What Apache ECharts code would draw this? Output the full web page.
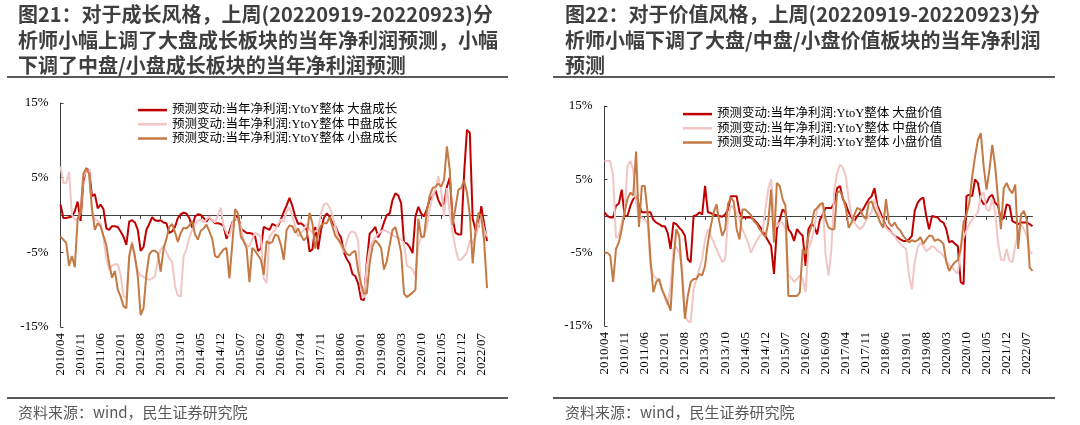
<!DOCTYPE html>
<html>
<head>
<meta charset="utf-8">
<script src="https://cdn.jsdelivr.net/npm/echarts@6/dist/echarts.min.js"></script>
<style>
html,body{margin:0;padding:0;background:#fff;}
#main{width:1080px;height:425px;}
</style>
</head>
<body>
<div id="main"></div>
<script>
// 月度数据 2010/04 - 2022/09
var months = [];
(function(){
	var y = 2010, m = 4;
	for (var i = 0; i < 150; i++) {
		months.push(y + '/' + (m < 10 ? '0' + m : m));
		m++;
		if (m > 12) { m = 1; y++; }
	}
})();

var yTicks = [-15, -5, 5, 15];

// 图21 成长风格
var growthNames = ['预测变动:当年净利润:YtoY整体 大盘成长', '预测变动:当年净利润:YtoY整体 中盘成长', '预测变动:当年净利润:YtoY整体 小盘成长'];
var growthLarge = [1.4,-0.4,-0.4,-0.3,-0.2,0.5,1.8,-0.8,4.5,6.2,
	6.0,2.5,2.8,0.9,1.4,0.8,-1.8,-2.0,-1.5,-1.5,
	-1.6,-2.2,-2.9,-4.0,-0.9,-0.7,-1.0,-2.0,-4.8,-4.3,
	-2.0,-1.2,-0.3,-0.7,-0.8,-0.7,-1.0,-1.1,-2.4,-2.2,
	-1.6,-0.4,0.1,0.3,0.2,-0.4,-1.7,-0.2,0.1,0.0,
	-0.4,-0.9,-0.3,-0.7,-1.1,-1.1,-1.2,-1.5,-3.2,-2.2,
	-1.0,-0.6,0.0,-1.8,-2.1,-2.4,-2.4,-2.5,-2.9,-4.8,
	-4.5,-1.6,-1.8,-2.0,-1.2,-1.4,-1.5,-0.6,0.4,1.3,
	2.3,1.2,-0.2,-1.2,-1.1,-1.4,-2.0,-4.9,-4.6,-1.6,
	-4.6,-2.0,-0.4,0.2,-0.2,-1.1,-1.5,-2.4,-3.0,-5.0,
	-5.9,-6.5,-7.9,-8.2,-9.2,-11.3,-11.4,-6.4,-2.5,-2.1,
	-1.6,-3.0,-2.2,-1.0,0.0,0.2,2.0,2.9,2.6,1.6,
	-3.7,-3.8,-4.3,-5.1,-0.2,1.1,0.2,-0.2,0.8,2.1,
	2.5,3.3,2.0,1.2,1.5,3.8,5.0,-0.5,-2.4,-2.6,
	-2.6,5.5,11.4,11.0,-0.5,-2.0,-1.6,1.2,-1.2,-3.5];
var growthMid = [6.5,4.3,4.3,5.8,0.0,-0.6,-0.6,0.3,5.0,6.0,
	6.0,0.3,-0.6,-0.8,-1.1,-3.0,-5.8,-7.3,-6.8,-6.6,
	-6.6,-8.0,-10.9,-11.1,-5.8,-3.5,-6.0,-7.5,-8.1,-8.3,
	-8.5,-8.7,-8.5,-8.2,-6.0,-4.6,-4.2,-5.0,-5.8,-6.3,
	-9.5,-10.8,-10.9,-5.5,-4.6,-3.0,-2.0,-1.3,-0.8,-0.6,
	-1.0,-0.6,-0.2,-0.7,-1.0,0.0,1.0,-1.5,-2.4,-2.9,
	-1.2,-0.3,-0.8,-1.5,-3.5,-4.0,-4.2,-3.2,-2.4,-2.6,
	-2.9,-8.5,-9.1,-2.9,-2.4,-2.0,-1.2,-0.6,-0.9,0.5,
	1.0,-0.2,-1.5,-2.9,-2.4,-2.0,-1.2,-1.8,-2.4,-2.2,
	-2.0,0.2,1.4,1.6,1.0,0.0,-1.5,-3.0,-4.2,-5.0,
	-3.5,-2.4,-2.2,-2.4,-3.5,-10.0,-11.1,-7.0,-4.5,-3.5,
	-3.0,-2.5,-2.2,-2.0,-2.2,-2.4,-2.7,-2.9,-3.1,-3.3,
	-3.75,-6.8,-7.0,-7.3,-8.2,-4.0,-3.1,-2.9,-1.5,0.8,
	2.4,3.5,5.2,3.2,-0.2,3.6,0.2,-2.4,-4.5,-6.0,
	-6.0,-5.5,-5.0,-3.4,-3.8,-2.9,-1.5,-0.2,-2.0,-2.9];
var growthSmall = [-2.9,-3.3,-3.75,-6.8,-5.5,-7.0,-0.5,0.3,5.5,6.3,
	5.5,0.8,-2.0,-1.1,-1.5,-2.8,-4.0,-6.5,-8.4,-7.5,
	-10.0,-10.9,-12.2,-12.5,-5.5,-3.8,-5.5,-8.2,-13.4,-12.5,
	-8.0,-5.3,-4.8,-4.8,-5.1,-7.6,-4.5,-3.2,-1.6,-1.2,
	-2.3,-3.6,-2.4,-1.7,-1.8,-1.4,-0.8,-2.6,-3.3,-2.1,
	-1.8,-1.3,-2.2,-3.2,-5.5,-5.7,-5.1,-4.6,-4.4,-8.5,
	-4.0,0.8,0.2,-2.9,-3.5,-4.4,-9.0,-4.4,-4.8,-5.4,
	-6.0,-8.0,-3.5,-3.8,-3.6,-2.6,-2.8,-4.0,-6.0,-2.0,
	-1.4,-1.5,-2.4,-1.8,-2.7,-3.4,-3.0,0.3,-1.1,-4.5,
	-2.5,-1.4,-1.1,-1.1,-0.3,-1.5,-2.8,-3.3,-3.8,-4.6,
	-5.2,-5.4,-5.0,-4.8,-7.5,-9.2,-10.5,-10.5,-6.5,-4.2,
	-3.4,-3.8,-4.4,-7.3,-6.2,-4.0,-2.0,-1.6,-3.2,-5.0,
	-10.5,-11.0,-10.7,-10.4,-10.0,-0.5,-2.9,-2.9,0.5,2.6,
	3.6,3.8,4.2,3.8,4.7,9.2,6.0,-1.3,1.0,3.4,
	3.6,4.6,3.0,0.0,-6.5,-2.0,0.3,-0.1,-3.5,-9.8];

// 图22 价值风格
var valueNames = ['预测变动:当年净利润:YtoY整体 大盘价值', '预测变动:当年净利润:YtoY整体 中盘价值', '预测变动:当年净利润:YtoY整体 小盘价值'];
var valueLarge = [0.5,0.0,-0.2,-0.2,1.4,1.7,3.6,0.0,0.0,1.4,
	2.3,2.7,1.5,0.5,0.5,0.5,0.5,-0.5,-0.9,-1.1,
	-1.4,-1.4,-2.3,-4.5,-0.9,-1.1,-1.6,-2.0,-2.7,-5.9,
	-6.3,0.0,0.1,0.5,0.2,4.1,0.5,0.4,0.2,0.1,
	0.0,-0.1,0.2,0.9,2.7,2.7,2.7,0.5,-0.2,-0.2,
	-0.2,-0.2,-0.5,-0.9,-1.4,-2.0,-2.7,-3.4,-4.1,-7.9,
	-1.8,-0.5,0.9,0.5,-1.8,-2.3,-3.4,-1.8,-2.3,-2.7,
	-6.8,-1.8,-1.1,-1.4,-2.5,-0.5,0.2,1.1,1.1,1.1,
	1.8,3.8,4.1,2.3,1.6,0.5,-0.2,-0.7,0.0,0.5,
	0.9,1.6,2.3,2.7,3.8,1.4,0.5,-0.5,-1.4,-1.8,
	-2.3,-2.7,-2.9,-3.2,-3.4,-3.4,-3.2,-2.7,0.7,1.8,
	2.3,2.5,0.0,-1.8,0.0,-0.1,-0.2,-0.7,-0.9,-1.8,
	-3.6,-3.4,-3.8,-4.1,-9.0,-9.3,2.7,2.9,2.7,5.0,
	4.5,2.3,1.6,1.8,2.6,2.9,1.8,1.4,-0.5,-0.3,
	1.6,1.4,-0.7,-0.9,-1.1,-0.9,-0.9,-0.9,-1.1,-1.4];
var valueMid = [7.5,7.5,7.5,5.4,-3.0,-2.7,-0.9,0.5,6.8,7.5,
	6.3,1.8,-0.1,-0.2,-0.5,-0.9,-6.8,-8.1,-8.5,-8.8,
	-10.0,-11.1,-12.2,-9.5,-4.5,-4.2,-5.0,-7.2,-13.6,-14.3,
	-14.5,-10.0,-8.6,-7.2,-5.9,-3.2,-1.8,-2.7,-3.6,-4.5,
	-5.4,-6.3,-5.9,-0.5,1.4,1.1,0.5,-0.5,-1.8,-2.7,
	-3.6,-5.0,-4.1,-3.4,-2.7,-2.3,0.9,3.6,5.0,0.0,
	-1.4,-0.9,-0.9,-1.8,-8.1,-8.4,-9.0,-8.6,-8.1,-8.6,
	-10.4,-4.5,-3.4,-1.8,0.9,1.3,1.6,-5.4,-8.1,-4.5,
	3.6,5.9,7.0,6.6,5.4,2.3,0.2,-0.9,-1.4,-1.8,
	-1.4,-0.7,0.0,0.5,2.3,0.9,0.0,-0.7,-1.6,-2.0,
	-2.3,-2.7,-3.4,-3.8,-4.2,-4.5,-8.1,-10.0,-6.3,-4.3,
	-3.7,-4.1,-4.8,-4.5,-4.1,-4.3,-4.8,-5.0,-5.4,-6.1,
	-6.7,-7.0,-7.5,-7.9,-4.5,-2.9,-2.0,-1.1,-0.5,0.0,
	0.5,2.7,3.2,0.9,0.7,2.3,0.5,-3.6,-5.9,-6.1,
	-4.5,-6.1,-6.3,-4.1,-2.3,-1.1,-1.8,-2.7,-4.8,-5.2];
var valueSmall = [-5.0,-5.0,-5.4,-9.0,-4.5,-3.6,-1.8,0.5,2.3,3.2,
	2.8,8.8,-1.5,4.1,4.1,0.5,-5.9,-10.4,-9.0,-8.6,
	-10.0,-10.9,-11.8,-12.9,-6.3,-1.8,-2.7,-8.1,-14.0,-10.9,
	-9.0,-8.6,-8.6,-7.9,-8.1,-6.8,-3.6,-1.4,0.5,1.6,
	-0.9,-2.7,-1.8,1.6,2.5,2.0,-1.8,-3.2,0.9,0.9,
	0.5,0.1,-0.7,-1.1,-1.8,-2.3,-2.9,-0.9,3.6,-3.6,
	4.5,4.1,2.3,1.4,-10.9,-10.9,-10.9,-10.9,-10.4,-4.5,
	-5.2,-2.7,-1.4,0.7,1.1,1.6,1.8,-0.5,-1.6,-1.8,
	-1.8,3.2,3.4,2.5,1.1,-1.6,-0.9,0.2,1.1,0.9,
	0.0,-0.4,1.8,2.0,0.9,0.1,-0.9,-1.6,2.3,-0.9,
	-1.4,-0.9,-1.6,-2.0,-2.7,-3.2,-3.6,-3.3,-3.5,-3.3,
	-2.9,-3.8,-3.2,-2.7,-2.7,-3.4,-3.2,-3.4,-3.8,-6.3,
	-7.5,-6.8,-6.3,-6.0,-4.5,-0.9,0.2,1.8,5.4,8.1,
	10.4,11.3,6.8,3.6,6.3,9.7,6.8,2.3,-1.8,3.8,
	4.5,3.6,3.1,4.3,-4.5,0.2,0.7,-0.5,-7.0,-7.5];

var colors = ['#C00000', '#F2C6C4', '#C47A45'];
var serif = '"Liberation Serif", "Times New Roman", serif';
var legendFont = '"Liberation Serif", "Noto Sans CJK SC", serif';
var cjk = '"Noto Sans CJK SC", sans-serif';

function makeAxes(gridIndex) {
	var xMain = {
		type: 'category', gridIndex: gridIndex, data: months, boundaryGap: false,
		axisLine: { show: false, onZero: false },
		axisTick: { show: false },
		axisLabel: { interval: 6, rotate: 90, margin: 6, fontFamily: serif, fontSize: 13, color: '#000' },
		splitLine: { show: false }
	};
	// 0轴那条横线
	var xZero = {
		type: 'category', gridIndex: gridIndex, data: months, boundaryGap: false,
		axisLine: { show: true, onZero: true, lineStyle: { color: '#404040', width: 1 } },
		axisTick: { show: true, inside: true, interval: 6, length: 4, lineStyle: { color: '#404040' } },
		axisLabel: { show: false },
		splitLine: { show: false }
	};
	var y = {
		type: 'value', gridIndex: gridIndex, min: yTicks[0], max: yTicks[yTicks.length - 1], interval: 10,
		axisLine: { show: true, lineStyle: { color: '#404040', width: 1 } },
		axisTick: { show: true, inside: true, length: 3, lineStyle: { color: '#404040' } },
		axisLabel: { formatter: '{value}%', margin: 12, fontFamily: serif, fontSize: 13, color: '#000' },
		splitLine: { show: false }
	};
	return { x: [xMain, xZero], y: y };
}

function makeSeries(names, vals, xIdx, yIdx) {
	var out = [];
	for (var i = 0; i < names.length; i++) {
		out.push({
			name: names[i], type: 'line', data: vals[i],
			xAxisIndex: xIdx, yAxisIndex: yIdx,
			showSymbol: false, symbol: 'none',
			lineStyle: { color: colors[i], width: 2 },
			itemStyle: { color: colors[i] },
			z: 3 + i
		});
	}
	return out;
}

var a0 = makeAxes(0), a1 = makeAxes(1);
var myChart = echarts.init(document.getElementById('main'));

myChart.setOption({
	animation: false,
	backgroundColor: '#fff',
	title: [{
		text: '图21：对于成长风格，上周(20220919-20220923)分\n析师小幅上调了大盘成长板块的当年净利润预测，小幅\n下调了中盘/小盘成长板块的当年净利润预测',
		left: 18, top: 2, padding: 0,
		textStyle: { fontFamily: cjk, fontSize: 20, fontWeight: 'bold', color: '#3f3f3f', lineHeight: 25.5 }
	}, {
		text: '图22：对于价值风格，上周(20220919-20220923)分\n析师小幅下调了大盘/中盘/小盘价值板块的当年净利润\n预测',
		left: 565, top: 2, padding: 0,
		textStyle: { fontFamily: cjk, fontSize: 20, fontWeight: 'bold', color: '#3f3f3f', lineHeight: 25.5 }
	}],
	legend: [{
		data: growthNames, orient: 'vertical', left: 138, top: 103, padding: 0,
		icon: 'rect', itemWidth: 29, itemHeight: 2.5, itemGap: 0,
		textStyle: { fontFamily: legendFont, fontSize: 12.5, color: '#000', lineHeight: 14.2 }
	}, {
		data: valueNames, orient: 'vertical', left: 683, top: 107, padding: 0,
		icon: 'rect', itemWidth: 29, itemHeight: 2.5, itemGap: 0,
		textStyle: { fontFamily: legendFont, fontSize: 12.5, color: '#000', lineHeight: 14.2 }
	}],
	grid: [
		{ left: 60.5, top: 103, width: 426.5, height: 224 },
		{ left: 604.5, top: 106, width: 428, height: 220 }
	],
	xAxis: [a0.x[0], a0.x[1], a1.x[0], a1.x[1]],
	yAxis: [a0.y, a1.y],
	series: makeSeries(growthNames, [growthLarge, growthMid, growthSmall], 0, 0)
		.concat(makeSeries(valueNames, [valueLarge, valueMid, valueSmall], 2, 1)),
	graphic: [
		{ type: 'line', shape: { x1: 7, y1: 77, x2: 508, y2: 77 }, style: { stroke: '#595959', lineWidth: 2 } },
		{ type: 'line', shape: { x1: 553, y1: 77, x2: 1055, y2: 77 }, style: { stroke: '#595959', lineWidth: 2 } },
		{ type: 'line', shape: { x1: 7, y1: 398, x2: 508, y2: 398 }, style: { stroke: '#595959', lineWidth: 2 } },
		{ type: 'line', shape: { x1: 553, y1: 398, x2: 1055, y2: 398 }, style: { stroke: '#595959', lineWidth: 2 } },
		{ type: 'text', x: 18, y: 412, style: { text: '资料来源：wind，民生证券研究院', font: '15px "Noto Sans CJK SC"', fill: '#595959', verticalAlign: 'middle' } },
		{ type: 'text', x: 565, y: 412, style: { text: '资料来源：wind，民生证券研究院', font: '15px "Noto Sans CJK SC"', fill: '#595959', verticalAlign: 'middle' } }
	]
});
</script>
</body>
</html>
